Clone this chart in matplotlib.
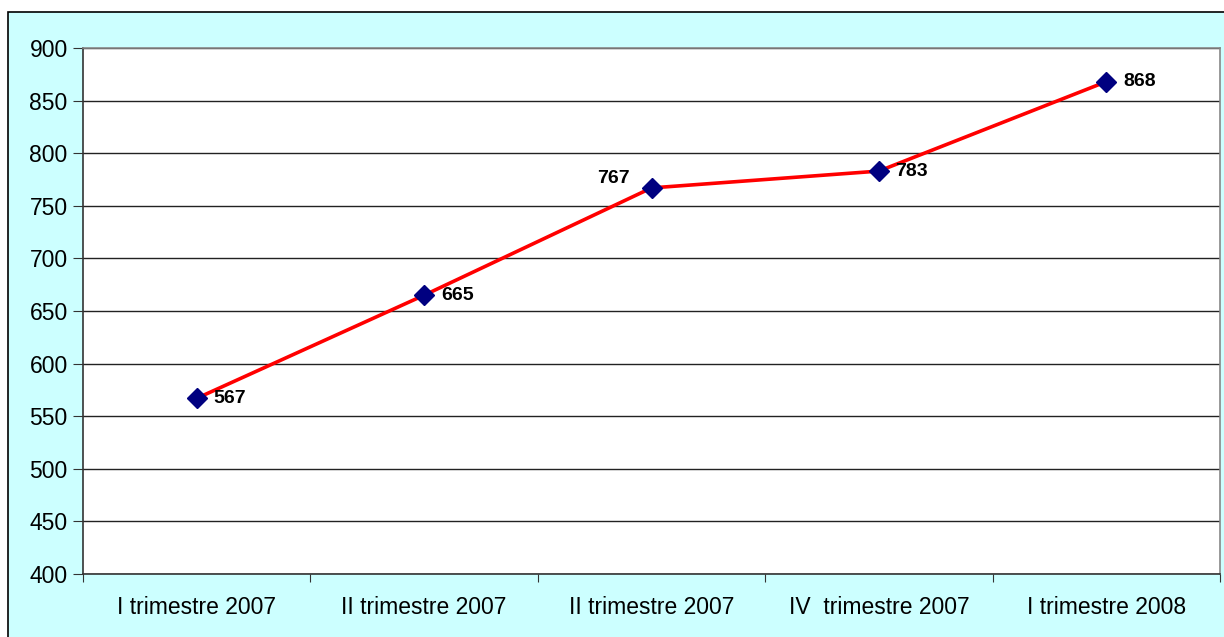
import matplotlib.pyplot as plt
from matplotlib.patches import Rectangle

categories = ["I trimestre 2007", "II trimestre 2007", "II trimestre 2007",
              "IV  trimestre 2007", "I trimestre 2008"]
values = [567, 665, 767, 783, 868]
# label offsets in points (dx, dy, ha)
label_pos = [(12, 0, "left"), (12, 0, "left"), (-16, 7, "right"), (12, 0, "left"), (12, 0, "left")]

plt.rcParams['font.family'] = ['Liberation Sans', 'DejaVu Sans']

fig = plt.figure(figsize=(12.24, 6.37), dpi=100)
fig.patch.set_facecolor("white")
fig.patches.append(Rectangle((8 / 1224, -0.1), 1.2, 1.1 - 12 / 637,
                             transform=fig.transFigure, facecolor="#CCFFFF",
                             edgecolor="black", linewidth=1.2, zorder=-10))

ax = fig.add_axes([83 / 1224, 1 - 574 / 637, (1220 - 83) / 1224, (574 - 48) / 637])
ax.set_facecolor("white")

x = list(range(len(categories)))
ax.plot(x, values, color="red", linewidth=2.6, zorder=3)
ax.plot(x, values, linestyle="none", marker="D", markersize=10.5,
        markerfacecolor="#000080", markeredgecolor="#000080", zorder=4)

for xi, v, (dx, dy, ha) in zip(x, values, label_pos):
    ax.annotate(str(v), (xi, v), xytext=(dx, dy), textcoords="offset points",
                ha=ha, va="center", fontsize=14, fontweight="bold")

ax.set_xlim(-0.5, 4.5)
ax.set_ylim(400, 900)
ax.set_yticks(range(400, 901, 50))
ax.yaxis.grid(True, color="#222222", linewidth=1)
ax.set_axisbelow(True)

ax.set_xticks([i - 0.5 for i in range(len(categories) + 1)])
ax.set_xticklabels([])
ax.set_xticks(x, minor=True)
ax.set_xticklabels(categories, minor=True)
ax.tick_params(axis="x", which="minor", length=0, pad=16, labelsize=16.5)
ax.tick_params(axis="x", which="major", length=6, direction="out", color="#333333")
ax.tick_params(axis="y", length=7, direction="out", labelsize=16.5, pad=4, color="#333333")

ax.spines["left"].set_color("#333333")
ax.spines["bottom"].set_color("#333333")
ax.spines["top"].set_color("#888888")
ax.spines["right"].set_color("#888888")
for s in ax.spines.values():
    s.set_linewidth(1.2)

plt.savefig("out.png", dpi=100)
